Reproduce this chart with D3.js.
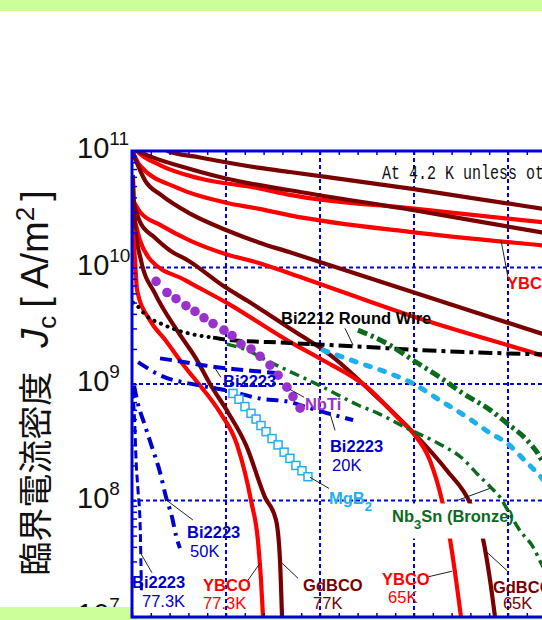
<!DOCTYPE html>
<html lang="ja">
<head>
<meta charset="utf-8">
<title>Jc - B</title>
<script src="https://cdn.jsdelivr.net/npm/d3@7/dist/d3.min.js"></script>
<style>
body { margin: 0; background: #fff; }
svg { display: block; font-family: "Liberation Sans", Arial, sans-serif; }
</style>
</head>
<body>
<script>

// each series: [B (T), Jc (A/m^2)]
var gdbco4K = [[1.49,1.14e11],[1.91,1.0e11],[3.62,8.8e10],[6.7,7.2e10],[8.4,6.6e10],[15.0,4.7e10],[21.8,3.2e10],[23.5,2.9e10]];
var ybco4K = [[0.05,1.1e11],[0.27,1.0e11],[1.54,7.5e10],[3.62,5.8e10],[6.7,4.8e10],[8.4,4.2e10],[15.0,3.2e10],[21.8,2.45e10],[23.5,2.3e10]];
var gdbco20K = [[0.11,1.03e11],[0.96,9.0e10],[3.09,7.0e10],[5.0,5.8e10],[8.4,4.6e10],[15.0,3.1e10],[21.8,2.0e10],[23.5,1.8e10]];
var ybco20K = [[0.05,9.7e10],[0.43,7.5e10],[2.45,4.8e10],[5.0,3.6e10],[6.7,3.2e10],[8.4,2.8e10],[15.0,2.0e10],[21.8,1.55e10],[23.5,1.46e10]];
var gdbco40K = [[0.05,9.7e10],[0.16,8.7e10],[0.69,5.6e10],[1.54,4.2e10],[3.09,2.9e10],[5.0,2.1e10],[6.7,1.65e10],[8.4,1.35e10],[15.0,6.1e9],[21.8,2.7e9],[23.5,2.2e9]];
var ybco40K = [[0.05,3.8e10],[0.43,3.0e10],[1.54,2.3e10],[3.09,1.7e10],[5.0,1.3e10],[6.7,1.1e10],[8.4,8.9e9],[15.16,3.7e9],[21.8,1.76e9],[23.5,1.45e9]];
var gdbco65K = [[0.05,3.8e10],[0.43,2.45e10],[1.22,1.8e10],[2.02,1.4e10],[2.98,1.15e10],[4.95,6.8e9],[6.12,5.2e9],[8.4,3.0e9],[10.69,1.7e9],[12.82,8.3e8],[14.95,3.85e8],[16.76,1.8e8],[17.98,9.5e7],[18.67,4.7e7],[19.04,2.1e7],[19.31,1.0e7]];
var ybco65K = [[0.05,3.0e10],[0.43,1.7e10],[1.01,1.15e10],[2.82,7.8e9],[5.11,4.9e9],[8.4,2.3e9],[10.16,1.6e9],[12.5,9.4e8],[14.26,4.9e8],[14.95,3.8e8],[15.85,2.2e8],[16.49,1.0e8],[16.91,4.7e7],[17.29,1.8e7],[17.5,1.0e7]];
var gdbco77K = [[0.05,6.2e10],[0.16,2.3e10],[0.48,1.15e10],[1.22,6.0e9],[2.45,2.8e9],[3.4,1.66e9],[4.15,1.0e9],[5.11,5.7e8],[6.06,3.0e8],[7.07,1.07e8],[7.66,6.8e7],[7.87,3.1e7],[7.98,1.0e7]];
var ybco77K = [[0.05,2.1e10],[0.16,1.15e10],[0.27,6.4e9],[0.96,3.5e9],[1.76,2.4e9],[2.82,1.4e9],[3.62,9.7e8],[4.68,5.7e8],[5.59,3.0e8],[6.33,1.0e8],[6.7,4.5e7],[6.86,2.1e7],[6.97,1.0e7]];

var bi2212Dot = [[0.05,5.0e9],[0.27,4.7e9],[0.8,3.8e9],[1.54,3.3e9],[2.39,2.9e9],[3.09,2.7e9],[4.31,2.5e9]];
var bi2212Dash = [[4.31,2.5e9],[5.05,2.4e9],[8.4,2.25e9],[9.5,2.2e9]];
var bi2212DashDot = [[9.5,2.2e9],[11.97,2.1e9],[15.48,1.95e9],[21.81,1.8e9],[23.5,1.78e9]];

var nbti = [[1.28,7.6e9],[1.86,6.1e9],[2.34,5.4e9],[2.87,4.7e9],[3.35,4.2e9],[3.83,3.7e9],[4.31,3.3e9],[4.89,2.9e9],[5.32,2.6e9],[5.8,2.2e9],[6.33,2.0e9],[6.81,1.73e9],[7.34,1.45e9],[7.77,1.19e9],[8.24,9.4e8],[8.56,7.8e8],[8.94,6.2e8]];

var nb3snThick = [[12.02,2.9e9],[13.62,2.2e9],[14.95,1.6e9],[16.38,1.14e9],[17.61,8.3e8],[19.04,6.0e8],[19.95,4.6e8],[21.01,3.3e8],[21.54,2.6e8],[21.81,2.2e8],[22.2,1.75e8]];
var nb3snBronze = [[5.05,2.2e9],[6.12,1.95e9],[7.34,1.54e9],[8.4,1.28e9],[10.16,9.4e8],[12.02,6.6e8],[13.09,5.6e8],[14.52,4.25e8],[16.28,3.1e8],[17.5,2.35e8],[18.51,1.6e8],[19.04,1.32e8],[19.57,1.07e8],[20.11,7.6e7],[20.64,5.5e7],[21.33,4.0e7],[21.81,2.8e7],[22.13,2.3e7]];
var skyDash = [[10.16,1.95e9],[11.97,1.54e9],[13.72,1.23e9],[14.79,1.04e9],[16.38,7.25e8],[17.82,5.2e8],[19.04,3.8e8],[19.95,3.1e8],[20.9,2.2e8],[21.81,1.55e8],[22.23,1.27e8]];
var mgb2 = [[5.37,8.3e8],[5.69,7.4e8],[6.01,6.4e8],[6.33,5.6e8],[6.6,5.0e8],[6.86,4.4e8],[7.13,3.9e8],[7.45,3.4e8],[7.77,3.0e8],[8.09,2.6e8],[8.4,2.3e8],[8.72,2.0e8],[9.04,1.8e8],[9.36,1.6e8]];

var bi2223_4K = [[1.49,1.66e9],[2.82,1.54e9],[4.15,1.42e9],[5.48,1.34e9],[6.81,1.28e9],[8.03,1.23e9]];
var bi2223_20K = [[0.32,1.54e9],[1.49,1.19e9],[3.62,9.7e8],[5.05,8.8e8],[6.81,7.5e8],[8.4,7.0e8],[9.47,6.2e8],[11.76,4.9e8]];
var bi2223_50K = [[0.11,9.7e8],[0.27,7.25e8],[0.69,4.4e8],[1.12,2.7e8],[1.49,1.75e8],[1.81,1.07e8],[2.13,7.2e7],[2.34,5.0e7],[2.55,3.9e7]];
var bi2223_77K = [[0.05,8.8e8],[0.16,4.0e8],[0.21,2.35e8],[0.32,1.22e8],[0.43,6.4e7],[0.47,3.25e7],[0.5,1.7e7]];

var yTickValues = [1e7, 1e8, 1e9, 1e10, 1e11];
var xGrid = [5, 10, 15, 20, 25];
var yGrid = [1e8, 1e9, 1e10];

var red = "#ff0000", darkRed = "#780000", blue = "#0000cc", axisBlue = "#0000dd",
    green = "#0b6a1c", sky = "#1db0ee", purple = "#9932cc";

var W = 542, H = 620;
var plot = {left: 132, top: 151, bottom: 617, right: 696};

var svg = d3.select("body").append("svg")
    .attr("width", W)
    .attr("height", H);

var x = d3.scaleLinear().domain([0, 30]).range([plot.left, plot.right]);
var y = d3.scaleLog().domain([1e7, 1e11]).range([plot.bottom, plot.top]);

//y tick labels 10^n
yTickValues.forEach(function (v) {
    var t = svg.append("text")
        .attr("x", 77)
        .attr("y", y(v) + 7)
        .style("font-size", "29px")
        .attr("fill", "#111");
    t.append("tspan").text("10");
    t.append("tspan").attr("dy", -13).style("font-size", "19px").text(Math.round(Math.log10(v)));
});

//y axis title
var ylab = svg.append("text")
    .attr("transform", "translate(48,383) rotate(-90)")
    .attr("text-anchor", "middle")
    .attr("fill", "#111");
ylab.append("tspan").style("font-family", "'Noto Sans CJK JP'").style("font-size", "34px").text("臨界電流密度");
ylab.append("tspan").attr("dx", 24).style("font-style", "italic").style("font-size", "38px").text("J");
ylab.append("tspan").attr("dy", 8).style("font-size", "26px").text("c");
ylab.append("tspan").attr("dy", -8).attr("dx", 8).style("font-size", "38px").text("[ A/m");
ylab.append("tspan").attr("dy", -14).style("font-size", "26px").text("2");
ylab.append("tspan").attr("dy", 14).attr("dx", 6).style("font-size", "38px").text("]");

//green page bands
svg.append("rect").attr("x", 0).attr("y", 0).attr("width", W).attr("height", 11).attr("fill", "#ccff99");
svg.append("rect").attr("x", 0).attr("y", 607).attr("width", W).attr("height", 13).attr("fill", "#ccff99");

//plot area
svg.append("rect")
    .attr("x", plot.left).attr("y", plot.top)
    .attr("width", plot.right - plot.left).attr("height", plot.bottom - plot.top)
    .attr("fill", "#fff");

svg.append("clipPath").attr("id", "clip").append("rect")
    .attr("x", plot.left).attr("y", plot.top)
    .attr("width", plot.right - plot.left).attr("height", plot.bottom - plot.top);

//grid
var grid = svg.append("g")
    .attr("stroke", axisBlue).attr("stroke-width", 2).attr("stroke-dasharray", "4,3");
grid.selectAll(".gx").data(xGrid).enter().append("line")
    .attr("x1", function (d) { return x(d); }).attr("x2", function (d) { return x(d); })
    .attr("y1", plot.top).attr("y2", plot.bottom);
grid.selectAll(".gy").data(yGrid).enter().append("line")
    .attr("x1", plot.left).attr("x2", plot.right)
    .attr("y1", function (d) { return y(d); }).attr("y2", function (d) { return y(d); });

var line = d3.line()
    .x(function (d) { return x(d[0]); })
    .y(function (d) { return y(d[1]); })
    .curve(d3.curveMonotoneX);

var lineSeries = [
    {data: gdbco4K, color: darkRed, width: 4.2},
    {data: ybco4K, color: red, width: 4.2},
    {data: gdbco20K, color: darkRed, width: 4.2},
    {data: ybco20K, color: red, width: 4.2},
    {data: gdbco40K, color: darkRed, width: 4.2},
    {data: ybco40K, color: red, width: 4.2},
    {data: gdbco65K, color: darkRed, width: 4.2},
    {data: ybco65K, color: red, width: 4.2},
    {data: gdbco77K, color: darkRed, width: 4.2},
    {data: ybco77K, color: red, width: 4.2},
    {data: bi2212Dot, color: "#000", width: 4, dash: "0.1,7", cap: "round"},
    {data: bi2212Dash, color: "#000", width: 4, dash: "12,5"},
    {data: bi2212DashDot, color: "#000", width: 4, dash: "14,5,4,5"},
    {data: nb3snBronze, color: green, width: 3.5, dash: "10,5,3,5"},
    {data: nb3snThick, color: green, width: 5, dash: "10,4,3,4"},
    {data: skyDash, color: sky, width: 5, dash: "5,10", cap: "round"},
    {data: bi2223_4K, color: blue, width: 4, dash: "12,6"},
    {data: bi2223_20K, color: blue, width: 4, dash: "12,6,3,6"},
    {data: bi2223_50K, color: blue, width: 4, dash: "12,6,3,6"},
    {data: bi2223_77K, color: blue, width: 3, dash: "8,4"}
];

var curves = svg.append("g").attr("clip-path", "url(#clip)");

curves.selectAll("path")
    .data(lineSeries)
    .enter()
    .append("path")
    .attr("d", function (d) { return line(d.data); })
    .attr("fill", "none")
    .attr("stroke", function (d) { return d.color; })
    .attr("stroke-width", function (d) { return d.width; })
    .attr("stroke-dasharray", function (d) { return d.dash || null; })
    .attr("stroke-linecap", function (d) { return d.cap || "butt"; });

//NbTi dots
curves.selectAll(".nbti")
    .data(nbti)
    .enter()
    .append("circle")
    .attr("cx", function (d) { return x(d[0]); })
    .attr("cy", function (d) { return y(d[1]); })
    .attr("r", 4.8)
    .attr("fill", purple);

//MgB2 squares
curves.selectAll(".mgb2")
    .data(mgb2)
    .enter()
    .append("rect")
    .attr("x", function (d) { return x(d[0]) - 4; })
    .attr("y", function (d) { return y(d[1]) - 4; })
    .attr("width", 8).attr("height", 8)
    .attr("fill", "#fff")
    .attr("stroke", sky)
    .attr("stroke-width", 1.5);

//white box under the Nb3Sn label
svg.append("rect")
    .attr("x", x(13.7)).attr("y", y(1.0e8) + 3)
    .attr("width", x(19.5) - x(13.7)).attr("height", y(5.0e7) - y(1.0e8))
    .attr("fill", "#fff");

//leader lines
var leaders = [
    [[19.63, 1.71e10], [20.0, 8.2e9]],
    [[11.33, 3.0e9], [11.76, 2.15e9]],
    [[4.41, 1.37e9], [4.73, 1.14e9]],
    [[8.4, 9.0e8], [9.15, 7.7e8]],
    [[10.53, 5.6e8], [10.8, 4.0e8]],
    [[9.47, 1.58e8], [10.48, 1.27e8]],
    [[17.29, 1.0e8], [19.04, 1.27e8]],
    [[1.86, 1.0e8], [3.24, 6.8e7]],
    [[0.43, 3.6e7], [1.06, 2.4e7]],
    [[6.81, 2.9e7], [6.17, 2.07e7]],
    [[7.98, 2.9e7], [8.83, 2.15e7]],
    [[15.69, 2.2e7], [17.02, 2.47e7]],
    [[18.88, 3.6e7], [19.95, 2.5e7]]
];
svg.append("g").selectAll("line")
    .data(leaders)
    .enter()
    .append("line")
    .attr("x1", function (d) { return x(d[0][0]); })
    .attr("y1", function (d) { return y(d[0][1]); })
    .attr("x2", function (d) { return x(d[1][0]); })
    .attr("y2", function (d) { return y(d[1][1]); })
    .attr("stroke", "#222")
    .attr("stroke-width", 1);

//labels: parts are [text, shift] where shift "sub" lowers the part
var labels = [
    {at: [19.95, 6.5e9], color: red, bold: true, parts: [["YBCO"]]},
    {at: [7.93, 3.3e9], color: "#000", bold: true, parts: [["Bi2212 Round Wire"]]},
    {at: [4.84, 9.4e8], color: blue, bold: true, parts: [["Bi2223"]]},
    {at: [9.2, 6.0e8], color: purple, bold: true, parts: [["NbTi"]]},
    {at: [10.53, 2.6e8], color: blue, bold: true, parts: [["Bi2223"]]},
    {at: [10.64, 1.78e8], color: blue, bold: false, parts: [["20K"]]},
    {at: [10.48, 9.3e7], color: sky, bold: true, parts: [["MgB"], ["2", "sub"]]},
    {at: [13.83, 6.5e7], color: green, bold: true, parts: [["Nb"], ["3", "sub"], ["Sn (Bronze)"]]},
    {at: [2.93, 4.8e7], color: blue, bold: true, parts: [["Bi2223"]]},
    {at: [3.09, 3.25e7], color: blue, bold: false, parts: [["50K"]]},
    {at: [0.0, 1.76e7], color: blue, bold: true, parts: [["Bi2223"]]},
    {at: [0.53, 1.23e7], color: blue, bold: false, parts: [["77.3K"]]},
    {at: [3.78, 1.66e7], color: red, bold: true, parts: [["YBCO"]]},
    {at: [3.78, 1.16e7], color: red, bold: false, parts: [["77.3K"]]},
    {at: [9.1, 1.66e7], color: darkRed, bold: true, parts: [["GdBCO"]]},
    {at: [9.63, 1.16e7], color: darkRed, bold: false, parts: [["77K"]]},
    {at: [13.3, 1.88e7], color: red, bold: true, parts: [["YBCO"]]},
    {at: [13.62, 1.31e7], color: red, bold: false, parts: [["65K"]]},
    {at: [19.2, 1.6e7], color: darkRed, bold: true, parts: [["GdBCO"]]},
    {at: [19.73, 1.16e7], color: darkRed, bold: false, parts: [["65K"]]}
];

labels.forEach(function (l) {
    var t = svg.append("text")
        .attr("x", x(l.at[0]))
        .attr("y", y(l.at[1]))
        .attr("fill", l.color)
        .style("font-size", "16.5px")
        .style("font-weight", l.bold ? "bold" : "normal");
    l.parts.forEach(function (p) {
        var s = t.append("tspan").text(p[0]);
        if (p[1] === "sub") {
            s.attr("dy", 7).style("font-size", "13px");
        } else if (t.selectAll("tspan").size() > 1) {
            s.attr("dy", -7);
        }
    });
});

svg.append("text")
    .attr("x", x(13.3))
    .attr("y", y(5.8e10))
    .attr("textLength", 279)
    .attr("lengthAdjust", "spacingAndGlyphs")
    .style("font-family", "'Liberation Mono', monospace")
    .style("font-size", "20px")
    .attr("fill", "#111")
    .text("At 4.2 K unless otherwise noted");

//ticks
function styleAxis(g) {
    g.select(".domain").remove();
    g.selectAll("line").attr("stroke", axisBlue).attr("stroke-width", 1.5);
}
svg.append("g")
    .attr("transform", "translate(0," + plot.top + ")")
    .call(d3.axisBottom(x).tickValues(d3.range(0, 31)).tickSize(4).tickFormat(""))
    .call(styleAxis);
svg.append("g")
    .attr("transform", "translate(0," + plot.bottom + ")")
    .call(d3.axisTop(x).tickValues(d3.range(0, 31)).tickSize(4).tickFormat(""))
    .call(styleAxis);
svg.append("g")
    .attr("transform", "translate(" + plot.left + ",0)")
    .call(d3.axisRight(y).tickValues(y.ticks()).tickSize(5).tickFormat(""))
    .call(styleAxis);

//frame
svg.append("path")
    .attr("d", "M" + plot.right + "," + plot.top + "H" + plot.left + "V" + plot.bottom + "H" + plot.right)
    .attr("fill", "none")
    .attr("stroke", axisBlue)
    .attr("stroke-width", 3);

</script>
</body>
</html>
